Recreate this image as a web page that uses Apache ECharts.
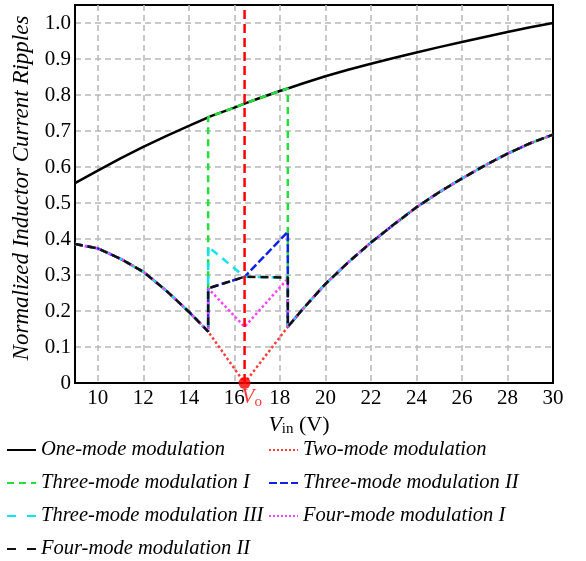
<!DOCTYPE html>
<html>
<head>
<meta charset="utf-8">
<script src="https://cdn.jsdelivr.net/npm/echarts@6/dist/echarts.min.js"></script>
<style>
  html, body { margin: 0; padding: 0; background: #fff; }
  #chart { width: 586px; height: 561px; }
</style>
</head>
<body>
<div id="chart"></div>
<script>
// Output voltage Vo, where the two-mode ripple reaches zero
const vo = 16.45;

// One-mode modulation ripple over the full input range
const oneMode = [[9,0.555],[10,0.59],[11,0.624],[12,0.656],[13,0.686],[14,0.714],[14.85,0.738],[15,0.742],[16,0.765],[16.45,0.776],[17,0.789],[18,0.811],[18.35,0.818],[19,0.832],[20,0.852],[21,0.87],[22,0.887],[23,0.903],[24,0.918],[25,0.933],[26,0.947],[27,0.961],[28,0.975],[29,0.988],[30,1.0]];

// Shared low-ripple branches below and above the transition band
const lowerLeft = [[9,0.386],[10,0.374],[11,0.345],[12,0.309],[13,0.257],[14,0.198],[14.85,0.143]];
const lowerRight = [[18.35,0.156],[19,0.205],[20,0.275],[21,0.335],[22,0.39],[23,0.44],[24,0.488],[25,0.53],[26,0.568],[27,0.604],[28,0.637],[29,0.666],[30,0.69]];

// Behaviour of each scheme inside the transition band (14.85 V .. 18.35 V)
const twoModeMid = [[16.45,0]];
const threeModeIIMid = [[14.85,0.263],[16.45,0.295],[18.35,0.42]];
const threeModeIIIMid = [[14.85,0.379],[16.45,0.295],[18.35,0.293]];
const fourModeIMid = [[14.85,0.263],[16.45,0.156],[18.35,0.29]];
const fourModeIIMid = [[14.85,0.263],[16.45,0.295],[18.35,0.293]];
const bandStart = 14.85, bandEnd = 18.35;

// Axis ticks
const yTicks = [0,0.1,0.2,0.3,0.4,0.5,0.6,0.7,0.8,0.9,1.0];

const threeModeIMid = oneMode.filter(p => p[0] >= bandStart && p[0] <= bandEnd);
const build = mid => lowerLeft.concat(mid, lowerRight);

const serif = '"Liberation Serif", "Times New Roman", serif';

function lineSeries(name, data, color, type, width) {
  return {
    name, type: 'line', data, symbol: 'none', smooth: false,
    lineStyle: { color, type, width, cap: 'butt' },
    itemStyle: { color },
    emphasis: { disabled: true },
    animation: false
  };
}

const series = [
  lineSeries('One-mode modulation', oneMode, '#000000', 'solid', 2.5),
  lineSeries('Two-mode modulation', build(twoModeMid), '#ff3b3b', 'dotted', 2.5),
  lineSeries('Three-mode modulation I', build(threeModeIMid), '#22e03a', [7, 5], 2.5),
  lineSeries('Three-mode modulation II', build(threeModeIIMid), '#1020e8', [8, 3], 2.5),
  lineSeries('Three-mode modulation III', build(threeModeIIIMid), '#10e4f4', [8, 6], 2.5),
  lineSeries('Four-mode modulation I', build(fourModeIMid), '#ff40ff', 'dotted', 2.5),
  lineSeries('Four-mode modulation II', build(fourModeIIMid), '#111111', [8, 5], 2.5),
  {
    name: 'Vo line', type: 'line', data: [[vo, 0], [vo, 1.05]], symbol: 'none',
    lineStyle: { color: '#ff0000', type: [9, 5], width: 2.5 }, z: 5, animation: false
  },
  {
    name: 'Vo', type: 'scatter', data: [[vo, 0]], symbolSize: 12, clip: false,
    itemStyle: { color: '#ff0000' }, z: 6, animation: false,
    label: {
      show: true, position: [3, 8], formatter: '{v|V}{s|o}',
      rich: {
        v: { fontFamily: serif, fontStyle: 'italic', fontSize: 21, color: '#ff0000' },
        s: { fontFamily: serif, fontSize: 15, color: '#ff0000', padding: [10, 0, 0, 0] }
      }
    }
  }
];

const legendText = { fontFamily: serif, fontStyle: 'italic', fontSize: 20.5, color: '#000', lineHeight: 22 };
const legendBase = {
  orient: 'vertical', top: 439, height: 140, padding: 0,
  itemWidth: 29, itemHeight: 14, itemGap: 11,
  itemStyle: { opacity: 0 },
  textStyle: legendText, selectedMode: false
};
// Wide-gap dash for the "- -" legend keys
const wideDash = { type: [9, 11] };

const gridLine = { show: true, showMinLine: false, showMaxLine: false,
  lineStyle: { color: '#b8b8b8', type: [6, 4], width: 1.5 } };

const option = {
  backgroundColor: '#ffffff',
  animation: false,
  grid: { left: 75, right: 33, top: 5, bottom: 178, show: true, borderColor: '#000', borderWidth: 2, backgroundColor: 'transparent' },
  xAxis: {
    type: 'value', min: 9, max: 30, splitNumber: 10, minInterval: 2, maxInterval: 2,
    axisLine: { lineStyle: { color: '#000', width: 2 } },
    axisTick: { show: false },
    axisLabel: { fontFamily: serif, fontSize: 21, color: '#000', margin: 5,
      formatter: v => (Math.abs(v % 2) < 1e-9 ? String(v) : '') },
    splitLine: gridLine,
    name: '{v|V}{s|in}{n| (V)}', nameLocation: 'middle', nameGap: 26,
    nameTextStyle: {
      padding: [0, 30, 0, 0],
      rich: {
        v: { fontFamily: serif, fontStyle: 'italic', fontSize: 22, color: '#000' },
        s: { fontFamily: serif, fontSize: 15, color: '#000', padding: [9, 0, 0, 0] },
        n: { fontFamily: serif, fontSize: 22, color: '#000' }
      }
    }
  },
  yAxis: {
    type: 'value', min: 0, max: 1.05, interval: 0.1,
    axisLine: { lineStyle: { color: '#000', width: 2 } },
    axisTick: { show: false },
    axisLabel: { fontFamily: serif, fontSize: 21, color: '#000', margin: 4,
      formatter: v => {
        const t = yTicks.find(k => Math.abs(k - v) < 1e-6);
        if (t === undefined) return '';
        return t === 0 ? '0' : t.toFixed(1);
      } },
    splitLine: gridLine,
    name: 'Normalized Inductor Current Ripples', nameLocation: 'middle', nameGap: 26,
    nameTextStyle: { fontFamily: serif, fontStyle: 'italic', fontSize: 23, color: '#000', padding: [0, 0, 0, 12] }
  },
  legend: [
    Object.assign({}, legendBase, {
      left: 6,
      data: [
        'One-mode modulation',
        'Three-mode modulation I',
        { name: 'Three-mode modulation III', lineStyle: wideDash },
        { name: 'Four-mode modulation II', lineStyle: wideDash }
      ]
    }),
    Object.assign({}, legendBase, {
      left: 268,
      data: ['Two-mode modulation', 'Three-mode modulation II', 'Four-mode modulation I']
    })
  ],
  series
};

const chart = echarts.init(document.getElementById('chart'), null, { renderer: 'canvas' });
chart.setOption(option);
</script>
</body>
</html>
